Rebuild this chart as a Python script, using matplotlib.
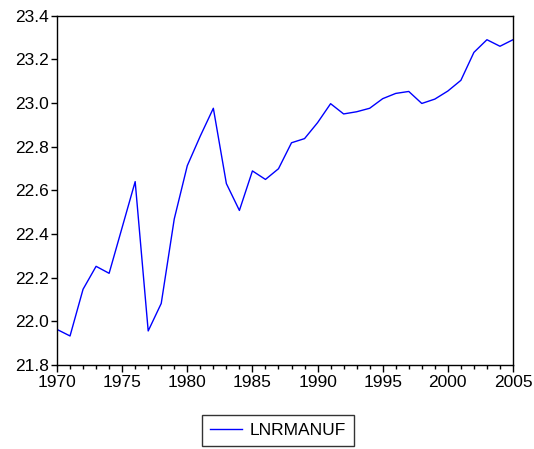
import matplotlib
matplotlib.use('Agg')
import matplotlib.pyplot as plt
from matplotlib.ticker import MultipleLocator

plt.rcParams['font.family'] = ['Liberation Sans', 'DejaVu Sans']

years = list(range(1970, 2006))
lnrmanuf = [21.963, 21.933, 22.147, 22.252, 22.220, 22.430, 22.640, 21.956,
            22.082, 22.469, 22.713, 22.849, 22.976, 22.631, 22.508, 22.689,
            22.650, 22.699, 22.818, 22.837, 22.910, 22.997, 22.950, 22.960,
            22.976, 23.020, 23.044, 23.053, 22.998, 23.018, 23.055, 23.104,
            23.232, 23.290, 23.260, 23.290]

fig = plt.figure(figsize=(5.34, 4.49), dpi=100)
ax = fig.add_axes([57 / 534, 1 - 365 / 449, 456 / 534, 349.3 / 449])

ax.plot(years, lnrmanuf, color='#0000ff', lw=1.0, label='LNRMANUF')

ax.set_xlim(1970, 2005)
ax.set_ylim(21.8, 23.4)
ax.xaxis.set_major_locator(MultipleLocator(5))
ax.xaxis.set_minor_locator(MultipleLocator(1))
ax.yaxis.set_major_locator(MultipleLocator(0.2))
ax.yaxis.set_major_formatter(plt.FuncFormatter(lambda v, p: '%.1f' % v))

ax.tick_params(axis='both', which='both', direction='out', labelsize=12.5,
               top=False, right=False, colors='black')
ax.tick_params(axis='y', which='major', length=4, width=1, pad=2)
ax.tick_params(axis='x', which='major', length=5, width=1, pad=2)
ax.tick_params(axis='x', which='minor', length=3, width=1)
for s in ax.spines.values():
    s.set_linewidth(1.0)
    s.set_color('black')

leg = fig.legend(loc='center', bbox_to_anchor=(278 / 534, 1 - 430.5 / 449),
                 fontsize=12.5, frameon=True, fancybox=False, handlelength=1.85,
                 borderpad=0.45, handletextpad=0.45, borderaxespad=0)
leg.get_frame().set_edgecolor('black')
leg.get_frame().set_linewidth(1.0)

fig.savefig('out.png', dpi=100)
